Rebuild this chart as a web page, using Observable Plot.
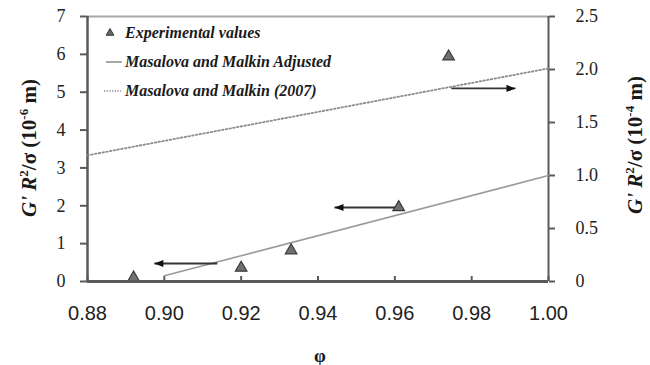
<!DOCTYPE html>
<html>
<head>
<meta charset="utf-8">
<script src="https://cdn.jsdelivr.net/npm/d3@7"></script>
<script src="https://cdn.jsdelivr.net/npm/@observablehq/plot@0.6"></script>
<style>
  html, body { margin: 0; padding: 0; background: #fff; }
  #chart { width: 650px; height: 365px; }
</style>
</head>
<body>
<div id="chart"></div>
<script>
// ---- data ----
const expPhi = [0.892, 0.920, 0.933, 0.961, 0.974];
const expVal = [0.10, 0.36, 0.82, 1.96, 5.94];           // left axis (10^-6 m)
const adjPhi = [0.900, 1.000];
const adjVal = [0.15, 2.80];                              // left axis (10^-6 m)
const mm07Phi = [0.880, 1.000];
const mm07Val = [1.19, 2.01];                             // right axis (10^-4 m)
const arrowFrom = [0.9138, 0.9607, 0.9747];
const arrowTo = [0.8974, 0.9443, 0.9914];
const arrowY = [0.475, 1.955, 5.10];                      // left axis units
const xTicks = [0.88, 0.90, 0.92, 0.94, 0.96, 0.98, 1.00];
const leftTicks = [0, 1, 2, 3, 4, 5, 6, 7];
const rightTicks = [0, 0.5, 1.0, 1.5, 2.0, 2.5];
const legendLabels = ["Experimental values", "Masalova and Malkin Adjusted", "Masalova and Malkin (2007)"];

// ---- tables ----
const k = 7 / 2.5; // right-axis to left-axis factor
const exp = expPhi.map((p, i) => ({phi: p, v: expVal[i]}));
const adj = adjPhi.map((p, i) => ({phi: p, v: adjVal[i]}));
const mm07 = mm07Phi.map((p, i) => ({phi: p, v: mm07Val[i] * k}));
const arrows = arrowFrom.map((a, i) => ({x1: a, x2: arrowTo[i], y: arrowY[i]}));

const headSymbol = {
  draw(ctx) {
    ctx.moveTo(0, 0);
    ctx.lineTo(-9, -3.6);
    ctx.lineTo(-9, 3.6);
    ctx.closePath();
  }
};

const serif = "'Liberation Serif', 'Times New Roman', serif";
const sans = "'Liberation Sans', Arial, sans-serif";
const axisColor = "#5a5a5a";

const plot = Plot.plot({
  width: 650,
  height: 365,
  marginLeft: 87,
  marginRight: 102,
  marginTop: 16,
  marginBottom: 84,
  x: {domain: [0.88, 1.0]},
  y: {domain: [0, 7]},
  style: {background: "#fff", color: "#222"},
  marks: [
    // frame
    Plot.ruleY([7], {stroke: "#a8a8a8", strokeWidth: 2}),
    Plot.ruleX([0.88], {stroke: axisColor, strokeWidth: 2.5}),
    Plot.ruleX([1.0], {stroke: axisColor, strokeWidth: 2}),
    // axes
    Plot.axisY(leftTicks, {anchor: "left", tickSize: 7, tickPadding: 15, strokeWidth: 2, stroke: axisColor,
      fill: "#222", fontSize: 18, fontFamily: serif, label: null, tickFormat: d => String(d)}),
    Plot.axisY(rightTicks.map(t => t * k), {anchor: "right", tickSize: 6, tickPadding: 21, strokeWidth: 2, stroke: axisColor,
      fill: "#222", fontSize: 18, fontFamily: serif, label: null,
      tickFormat: d => { const v = Math.round(d / k * 10) / 10; return v === 0 ? "0" : v.toFixed(1); }}),
    Plot.axisX(xTicks, {anchor: "bottom", tickSize: 0, tickPadding: 24, fill: "#222", fontSize: 20,
      fontFamily: sans, label: null, tickFormat: d => d.toFixed(2)}),
    Plot.tickX(xTicks, {x: d => d, insetTop: 260, stroke: axisColor, strokeWidth: 2}),
    // series
    Plot.line(mm07, {x: "phi", y: "v", stroke: "#8c8c8c", strokeWidth: 1.8, strokeDasharray: "1.6 2.2"}),
    Plot.line(adj, {x: "phi", y: "v", stroke: "#9a9a9a", strokeWidth: 1.6}),
    Plot.link(arrows, {x1: "x1", x2: "x2", y1: "y", y2: "y", stroke: "#333", strokeWidth: 1.8}),
    Plot.dot(arrows, {x: "x2", y: "y", symbol: headSymbol, rotate: d => (d.x2 < d.x1 ? 180 : 0), fill: "#111", stroke: "none"}),
    Plot.dot(exp, {x: "phi", y: "v", symbol: "triangle", r: 4.3, fill: "#707070", stroke: "#3a3a3a", strokeWidth: 1.2}),
    Plot.ruleY([0], {stroke: axisColor, strokeWidth: 3})
  ]
});

document.getElementById("chart").appendChild(plot);

// ---- legend and axis titles ----
const svg = d3.select(plot);
const lg = svg.append("g").attr("text-anchor", "start");
lg.append("path")
  .attr("d", d3.symbol(d3.symbolTriangle, 26)())
  .attr("transform", "translate(110,33)")
  .attr("fill", "#666").attr("stroke", "#333").attr("stroke-width", 1);
lg.append("line").attr("x1", 106).attr("x2", 122).attr("y1", 62).attr("y2", 62)
  .attr("stroke", "#8a8a8a").attr("stroke-width", 1.5);
lg.append("line").attr("x1", 104).attr("x2", 121).attr("y1", 91).attr("y2", 91)
  .attr("stroke", "#8a8a8a").attr("stroke-width", 1.5).attr("stroke-dasharray", "1.2 1.5");
legendLabels.forEach((t, i) => {
  lg.append("text").text(t)
    .attr("x", 125).attr("y", 38 + i * 29)
    .attr("text-anchor", "start")
    .attr("font-family", serif).attr("font-weight", "bold").attr("font-style", "italic")
    .attr("font-size", 16).attr("fill", "#1a1a1a");
});

function axisTitle(x, y, exp) {
  const t = svg.append("text")
    .attr("transform", `translate(${x},${y}) rotate(-90)`)
    .attr("text-anchor", "middle")
    .attr("font-family", serif).attr("font-weight", "bold").attr("font-size", 21).attr("fill", "#1a1a1a");
  t.append("tspan").attr("font-style", "italic").text("G' R");
  t.append("tspan").attr("font-size", 13).attr("dy", -8).text("2");
  t.append("tspan").attr("dy", 8).text("/σ (10");
  t.append("tspan").attr("font-size", 13).attr("dy", -8).text(exp);
  t.append("tspan").attr("dy", 8).text(" m)");
}
axisTitle(36, 148, "-6");
axisTitle(642, 145, "-4");

svg.append("text").text("φ")
  .attr("x", 320).attr("y", 362).attr("text-anchor", "middle")
  .attr("font-family", serif).attr("font-weight", "bold").attr("font-size", 19).attr("fill", "#1a1a1a");
</script>
</body>
</html>
